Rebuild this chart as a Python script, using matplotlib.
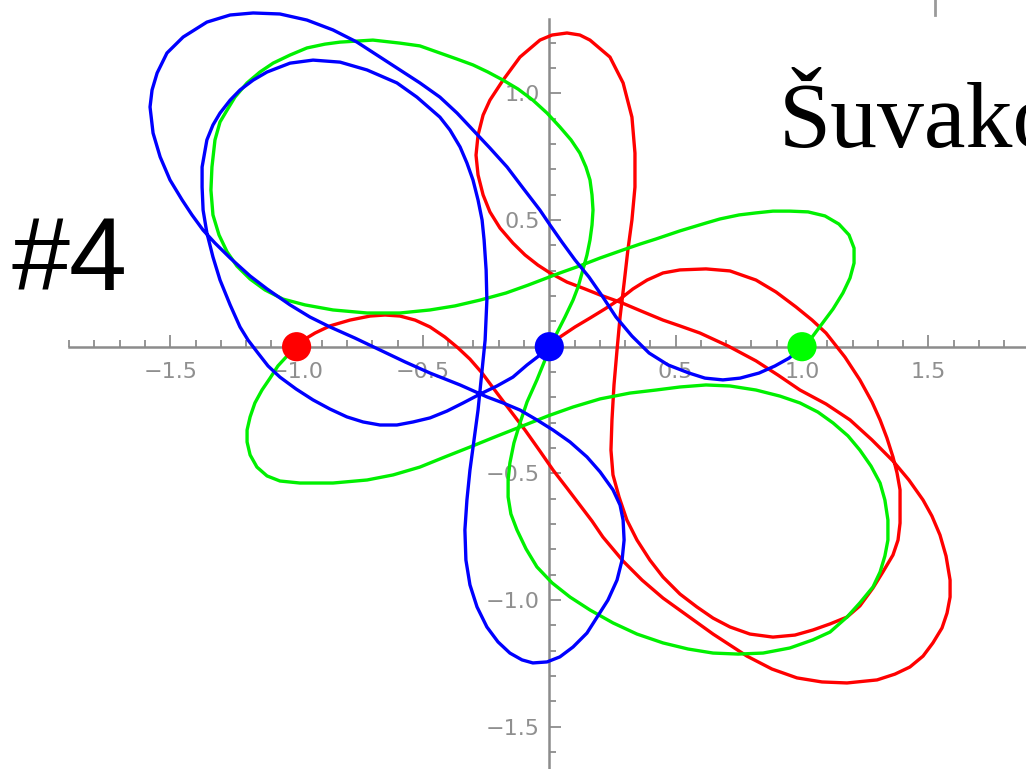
import matplotlib
matplotlib.use("Agg")
import matplotlib.pyplot as plt
from matplotlib.lines import Line2D
from matplotlib.ticker import FixedLocator

# Trajectories of the three bodies as (x, y) samples along each orbit
red_path = [
    (-1.002, 0.000), (-0.967, 0.030), (-0.927, 0.054), (-0.868, 0.082), (-0.789, 0.105),
    (-0.709, 0.121), (-0.650, 0.125), (-0.591, 0.121), (-0.531, 0.105), (-0.472, 0.078),
    (-0.413, 0.038), (-0.361, -0.005), (-0.314, -0.049), (-0.266, -0.104), (-0.207, -0.183),
    (-0.156, -0.250), (-0.096, -0.329), (-0.037, -0.412), (0.015, -0.487), (0.070, -0.558),
    (0.121, -0.625), (0.169, -0.688), (0.212, -0.751), (0.292, -0.846), (0.367, -0.921),
    (0.450, -0.992), (0.549, -1.063), (0.648, -1.134), (0.782, -1.221), (0.881, -1.272),
    (0.980, -1.307), (1.079, -1.323), (1.178, -1.327), (1.297, -1.315), (1.368, -1.292),
    (1.427, -1.264), (1.479, -1.221), (1.518, -1.169), (1.554, -1.110), (1.574, -1.051),
    (1.586, -0.988), (1.586, -0.921), (1.570, -0.826), (1.546, -0.743), (1.514, -0.668),
    (1.479, -0.605), (1.423, -0.526), (1.360, -0.451), (1.277, -0.368), (1.190, -0.289),
    (1.095, -0.226), (0.992, -0.171), (0.905, -0.112), (0.818, -0.056), (0.707, 0.003),
    (0.596, 0.054), (0.517, 0.082), (0.450, 0.105), (0.363, 0.141), (0.280, 0.176),
    (0.201, 0.204), (0.141, 0.228), (0.070, 0.255), (0.003, 0.291), (-0.045, 0.322),
    (-0.096, 0.362), (-0.144, 0.409), (-0.195, 0.468), (-0.235, 0.532), (-0.262, 0.599),
    (-0.282, 0.678), (-0.290, 0.756), (-0.282, 0.835), (-0.262, 0.914), (-0.235, 0.973),
    (-0.183, 1.052), (-0.116, 1.143), (-0.037, 1.210), (0.011, 1.230), (0.070, 1.238),
    (0.121, 1.230), (0.161, 1.210), (0.240, 1.143), (0.292, 1.041), (0.327, 0.906),
    (0.339, 0.764), (0.339, 0.630), (0.327, 0.500), (0.311, 0.382), (0.296, 0.251),
    (0.280, 0.117), (0.268, -0.013), (0.256, -0.151), (0.248, -0.289), (0.244, -0.408),
    (0.252, -0.506), (0.276, -0.593), (0.307, -0.684), (0.347, -0.763), (0.398, -0.842),
    (0.450, -0.909), (0.517, -0.976), (0.584, -1.027), (0.648, -1.071), (0.715, -1.106),
    (0.794, -1.134), (0.885, -1.146), (0.972, -1.138), (1.043, -1.118), (1.111, -1.094),
    (1.178, -1.067), (1.229, -1.023), (1.281, -0.952), (1.320, -0.889), (1.360, -0.822),
    (1.380, -0.763), (1.388, -0.696), (1.388, -0.625), (1.388, -0.565), (1.376, -0.498),
    (1.360, -0.435), (1.336, -0.360), (1.309, -0.289), (1.277, -0.218), (1.229, -0.131),
    (1.170, -0.041), (1.095, 0.054), (1.040, 0.105), (0.976, 0.157), (0.897, 0.216),
    (0.818, 0.263), (0.715, 0.299), (0.620, 0.307), (0.517, 0.303), (0.450, 0.291),
    (0.387, 0.263), (0.331, 0.228), (0.280, 0.188), (0.220, 0.149), (0.161, 0.113),
    (0.102, 0.078), (0.042, 0.038), (0.000, 0.000),
]

green_path = [
    (1.000, 0.000), (1.040, 0.038), (1.079, 0.090), (1.123, 0.149), (1.162, 0.212),
    (1.190, 0.271), (1.206, 0.330), (1.206, 0.389), (1.186, 0.441), (1.146, 0.484),
    (1.091, 0.516), (1.024, 0.532), (0.952, 0.535), (0.885, 0.535), (0.818, 0.528),
    (0.751, 0.520), (0.675, 0.504), (0.620, 0.488), (0.517, 0.457), (0.422, 0.425),
    (0.359, 0.405), (0.292, 0.382), (0.201, 0.350), (0.118, 0.318), (0.042, 0.291),
    (0.000, 0.275), (-0.084, 0.243), (-0.171, 0.212), (-0.274, 0.184), (-0.373, 0.161),
    (-0.472, 0.145), (-0.591, 0.133), (-0.721, 0.133), (-0.856, 0.145), (-0.967, 0.165),
    (-1.054, 0.188), (-1.125, 0.224), (-1.184, 0.267), (-1.236, 0.318), (-1.275, 0.374),
    (-1.307, 0.441), (-1.331, 0.520), (-1.339, 0.618), (-1.335, 0.709), (-1.323, 0.816),
    (-1.303, 0.887), (-1.275, 0.934), (-1.244, 0.985), (-1.196, 1.041), (-1.145, 1.084),
    (-1.093, 1.119), (-1.026, 1.151), (-0.959, 1.179), (-0.888, 1.194), (-0.828, 1.202),
    (-0.761, 1.206), (-0.698, 1.210), (-0.591, 1.198), (-0.512, 1.187), (-0.433, 1.159),
    (-0.365, 1.135), (-0.302, 1.112), (-0.243, 1.084), (-0.183, 1.052), (-0.124, 1.017),
    (-0.065, 0.973), (-0.009, 0.922), (0.042, 0.867), (0.086, 0.816), (0.121, 0.764),
    (0.145, 0.709), (0.161, 0.658), (0.169, 0.599), (0.173, 0.539), (0.169, 0.480),
    (0.161, 0.421), (0.149, 0.362), (0.133, 0.303), (0.114, 0.236), (0.094, 0.184),
    (0.062, 0.117), (0.030, 0.054), (-0.009, -0.033), (-0.049, -0.131), (-0.088, -0.218),
    (-0.116, -0.301), (-0.140, -0.380), (-0.156, -0.459), (-0.163, -0.526), (-0.163, -0.593),
    (-0.152, -0.660), (-0.128, -0.723), (-0.092, -0.798), (-0.049, -0.869), (0.011, -0.932),
    (0.082, -0.988), (0.161, -1.039), (0.252, -1.090), (0.347, -1.134), (0.450, -1.169),
    (0.549, -1.193), (0.648, -1.209), (0.747, -1.213), (0.846, -1.209), (0.952, -1.189),
    (1.043, -1.157), (1.111, -1.126), (1.178, -1.067), (1.229, -1.011), (1.281, -0.948),
    (1.309, -0.889), (1.328, -0.826), (1.340, -0.763), (1.340, -0.684), (1.328, -0.605),
    (1.309, -0.538), (1.273, -0.471), (1.229, -0.408), (1.182, -0.352), (1.123, -0.301),
    (1.063, -0.258), (0.992, -0.222), (0.913, -0.195), (0.818, -0.171), (0.715, -0.155),
    (0.620, -0.151), (0.517, -0.159), (0.422, -0.171), (0.319, -0.183), (0.201, -0.206),
    (0.094, -0.238), (-0.005, -0.273), (-0.116, -0.317), (-0.215, -0.356), (-0.314, -0.396),
    (-0.413, -0.435), (-0.512, -0.475), (-0.618, -0.506), (-0.721, -0.526), (-0.856, -0.538),
    (-0.987, -0.538), (-1.066, -0.530), (-1.117, -0.510), (-1.157, -0.475), (-1.184, -0.427),
    (-1.196, -0.376), (-1.196, -0.329), (-1.184, -0.277), (-1.165, -0.222), (-1.137, -0.171),
    (-1.105, -0.124), (-1.074, -0.076), (-1.038, -0.037), (-1.002, 0.000),
]

blue_path = [
    (0.000, 0.000), (-0.037, -0.033), (-0.088, -0.072), (-0.144, -0.120), (-0.207, -0.155),
    (-0.274, -0.187), (-0.341, -0.222), (-0.405, -0.254), (-0.472, -0.281), (-0.539, -0.297),
    (-0.603, -0.309), (-0.670, -0.309), (-0.737, -0.297), (-0.801, -0.277), (-0.868, -0.246),
    (-0.935, -0.210), (-1.002, -0.167), (-1.066, -0.120), (-1.113, -0.076), (-1.153, -0.025),
    (-1.192, 0.026), (-1.224, 0.078), (-1.263, 0.165), (-1.303, 0.263), (-1.331, 0.354),
    (-1.355, 0.449), (-1.370, 0.539), (-1.374, 0.630), (-1.374, 0.709), (-1.355, 0.816),
    (-1.331, 0.875), (-1.303, 0.922), (-1.263, 0.973), (-1.224, 1.013), (-1.172, 1.052),
    (-1.117, 1.084), (-1.026, 1.119), (-0.935, 1.131), (-0.828, 1.123), (-0.721, 1.092),
    (-0.603, 1.041), (-0.524, 0.985), (-0.433, 0.906), (-0.393, 0.855), (-0.353, 0.788),
    (-0.326, 0.725), (-0.302, 0.658), (-0.282, 0.579), (-0.266, 0.500), (-0.258, 0.421),
    (-0.250, 0.303), (-0.247, 0.184), (-0.254, 0.026), (-0.270, -0.131), (-0.282, -0.250),
    (-0.298, -0.368), (-0.314, -0.487), (-0.326, -0.605), (-0.334, -0.723), (-0.330, -0.842),
    (-0.314, -0.940), (-0.286, -1.027), (-0.247, -1.106), (-0.203, -1.165), (-0.156, -1.209),
    (-0.108, -1.236), (-0.065, -1.248), (-0.009, -1.244), (0.042, -1.224), (0.094, -1.185),
    (0.149, -1.130), (0.189, -1.067), (0.232, -1.000), (0.268, -0.921), (0.288, -0.842),
    (0.296, -0.763), (0.292, -0.684), (0.280, -0.625), (0.252, -0.565), (0.201, -0.494),
    (0.149, -0.435), (0.082, -0.376), (0.015, -0.329), (-0.049, -0.289), (-0.116, -0.250),
    (-0.183, -0.222), (-0.247, -0.198), (-0.353, -0.151), (-0.472, -0.104), (-0.571, -0.060),
    (-0.670, -0.013), (-0.769, 0.034), (-0.868, 0.078), (-0.947, 0.117), (-1.026, 0.165),
    (-1.117, 0.228), (-1.184, 0.279), (-1.263, 0.350), (-1.323, 0.409), (-1.370, 0.460),
    (-1.414, 0.520), (-1.453, 0.579), (-1.501, 0.658), (-1.540, 0.749), (-1.568, 0.843),
    (-1.580, 0.946), (-1.572, 1.013), (-1.552, 1.080), (-1.513, 1.159), (-1.449, 1.222),
    (-1.355, 1.281), (-1.263, 1.309), (-1.172, 1.317), (-1.066, 1.313), (-0.959, 1.289),
    (-0.856, 1.250), (-0.761, 1.202), (-0.670, 1.143), (-0.591, 1.092), (-0.512, 1.041),
    (-0.433, 0.985), (-0.365, 0.922), (-0.302, 0.855), (-0.235, 0.784), (-0.167, 0.709),
    (-0.104, 0.626), (-0.037, 0.539), (0.003, 0.480), (0.050, 0.413), (0.102, 0.342),
    (0.157, 0.275), (0.212, 0.196), (0.264, 0.117), (0.327, 0.042), (0.395, -0.025),
    (0.470, -0.072), (0.553, -0.104), (0.616, -0.124), (0.687, -0.131), (0.755, -0.124),
    (0.830, -0.104), (0.893, -0.076), (0.949, -0.045), (1.000, 0.000),
]

# Starting positions of the bodies
start_x = [-1.0, 0.0, 1.0]
start_y = [0.0, 0.0, 0.0]
body_colors = ["#ff0000", "#0000ff", "#00ff00"]

major_ticks = [-1.5, -1.0, -0.5, 0.5, 1.0, 1.5]
y_major_ticks = [-1.5, -1.0, -0.5, 0.5, 1.0]

W, H, DPI = 1026, 769, 100
fig = plt.figure(figsize=(W / DPI, H / DPI), dpi=DPI)
ax = fig.add_axes([0, 0, 1, 1])
ax.set_facecolor("none")

# data window: origin at (549.3, 346.7) px, ~252.7 px per unit in x, 253.4 in y
sx, sy = 252.7, 253.4
ox, oy = 549.3, 346.7
ax.set_xlim(-ox / sx, (W - ox) / sx)
ax.set_ylim(-(H - oy) / sy, oy / sy)

lw = 2.4
for path, col in ((red_path, "#ff0000"), (green_path, "#00f000"), (blue_path, "#0000ff")):
    xs, ys = zip(*path)
    ax.plot(xs, ys, color=col, lw=lw, solid_joinstyle="round",
            solid_capstyle="round", zorder=3)
ax.scatter(start_x, start_y, s=21 ** 2, c=body_colors, zorder=5, linewidths=0)

# Axes through the origin, Mathematica style
axis_gray = "#8c8c8c"
for side in ("top", "right"):
    ax.spines[side].set_visible(False)
ax.spines["left"].set_position(("data", 0))
ax.spines["bottom"].set_position(("data", 0))
ax.spines["bottom"].set_bounds(-1.9, 1.9)
ax.spines["left"].set_bounds(-1.75, 1.293)
for side in ("left", "bottom"):
    ax.spines[side].set_color(axis_gray)
    ax.spines[side].set_linewidth(1.8)
    ax.spines[side].set_zorder(1)

ax.xaxis.set_major_locator(FixedLocator(major_ticks))
ax.yaxis.set_major_locator(FixedLocator(y_major_ticks))
ax.xaxis.set_minor_locator(FixedLocator([i / 10 for i in range(-19, 20) if i % 5]))
ax.yaxis.set_minor_locator(FixedLocator([i / 10 for i in range(-17, 13) if i % 5]))
ax.set_xticklabels([f"{v:.1f}".replace("-", "\u2212") for v in major_ticks])
ax.set_yticklabels([f"{v:.1f}".replace("-", "\u2212") for v in y_major_ticks])
ax.tick_params(which="both", direction="in", color=axis_gray, width=1.3,
               labelcolor="#8f8f8f", labelsize=16)
ax.tick_params(which="major", length=8.5)
ax.tick_params(which="minor", length=5)
ax.tick_params(axis="x", pad=11)
ax.tick_params(axis="y", pad=7)

# Slide text around the plot
fig.text(11 / W, 1 - 290 / H, "#4", family="Liberation Sans", fontsize=75,
         va="baseline", ha="left")
fig.text(779 / W, 1 - 147 / H, "\u0160uvakov", family="Liberation Serif",
         fontsize=67.5, va="baseline", ha="left")
fig.add_artist(Line2D([935 / W, 935 / W], [1, 1 - 15 / H], color="#9a9a9a", lw=2))

fig.savefig("out.png", dpi=DPI)
